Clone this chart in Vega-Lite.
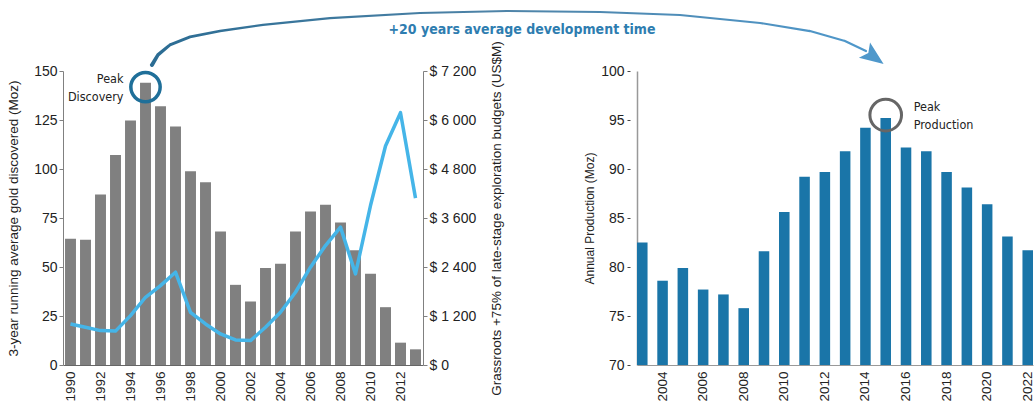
{
  "$schema": "https://vega.github.io/schema/vega-lite/v6.json",
  "background": "white",
  "padding": {"left": 6, "top": 10, "right": 0, "bottom": 0},
  "bounds": "flush",
  "spacing": 214,
  "config": {
    "font": "Liberation Sans",
    "view": {"stroke": null},
    "axis": {
      "labelFont": "Liberation Sans",
      "labelFontSize": 14,
      "labelColor": "#222222",
      "titleFont": "Liberation Sans",
      "titleFontSize": 12,
      "titleFontWeight": "normal",
      "titleColor": "#222222",
      "domainColor": "#808080",
      "tickColor": "#808080",
      "grid": false
    }
  },
  "datasets": {
    "discovery": [
      {"year": 1990, "moz": 64.4, "budget": 1005},
      {"year": 1991, "moz": 63.9, "budget": 924},
      {"year": 1992, "moz": 87.0, "budget": 842},
      {"year": 1993, "moz": 107.1, "budget": 830},
      {"year": 1994, "moz": 124.8, "budget": 1210},
      {"year": 1995, "moz": 144.0, "budget": 1659},
      {"year": 1996, "moz": 132.0, "budget": 1945},
      {"year": 1997, "moz": 121.7, "budget": 2272},
      {"year": 1998, "moz": 98.8, "budget": 1291},
      {"year": 1999, "moz": 93.3, "budget": 1005},
      {"year": 2000, "moz": 68.1, "budget": 760},
      {"year": 2001, "moz": 40.9, "budget": 613},
      {"year": 2002, "moz": 32.4, "budget": 597},
      {"year": 2003, "moz": 49.5, "budget": 924},
      {"year": 2004, "moz": 51.6, "budget": 1291},
      {"year": 2005, "moz": 68.1, "budget": 1782},
      {"year": 2006, "moz": 78.3, "budget": 2395},
      {"year": 2007, "moz": 81.7, "budget": 2926},
      {"year": 2008, "moz": 72.7, "budget": 3376},
      {"year": 2009, "moz": 58.6, "budget": 2231},
      {"year": 2010, "moz": 46.5, "budget": 3906},
      {"year": 2011, "moz": 29.5, "budget": 5362},
      {"year": 2012, "moz": 11.4, "budget": 6179},
      {"year": 2013, "moz": 8.0, "budget": 4087}
    ],
    "production": [
      {"year": 2003, "prod": 82.5},
      {"year": 2004, "prod": 78.6},
      {"year": 2005, "prod": 79.9},
      {"year": 2006, "prod": 77.7},
      {"year": 2007, "prod": 77.2},
      {"year": 2008, "prod": 75.8},
      {"year": 2009, "prod": 81.6},
      {"year": 2010, "prod": 85.6},
      {"year": 2011, "prod": 89.2},
      {"year": 2012, "prod": 89.7},
      {"year": 2013, "prod": 91.8},
      {"year": 2014, "prod": 94.2},
      {"year": 2015, "prod": 95.2},
      {"year": 2016, "prod": 92.2},
      {"year": 2017, "prod": 91.8},
      {"year": 2018, "prod": 89.7},
      {"year": 2019, "prod": 88.1},
      {"year": 2020, "prod": 86.4},
      {"year": 2021, "prod": 83.1},
      {"year": 2022, "prod": 81.7}
    ],
    "arrow": [
      {"t": 1995.43, "h": 153.1, "w": 12},
      {"t": 1995.83, "h": 158.2, "w": 10},
      {"t": 1996.63, "h": 163.3, "w": 8},
      {"t": 1997.97, "h": 167.4, "w": 7},
      {"t": 1999.97, "h": 170.4, "w": 6},
      {"t": 2002.83, "h": 173.5, "w": 5},
      {"t": 2007.3, "h": 177.0, "w": 4.5},
      {"t": 2013.3, "h": 179.6, "w": 4},
      {"t": 2019.1, "h": 180.6, "w": 4},
      {"t": 2025.3, "h": 180.1, "w": 4},
      {"t": 2030.63, "h": 178.6, "w": 4},
      {"t": 2035.97, "h": 174.5, "w": 4.5},
      {"t": 2039.3, "h": 170.4, "w": 5},
      {"t": 2041.63, "h": 165.3, "w": 5},
      {"t": 2043.03, "h": 160.2, "w": 5}
    ]
  },
  "hconcat": [
    {
      "width": 360,
      "height": 294,
      "layer": [
        {
          "layer": [
            {
              "layer": [
                {
                  "data": {"name": "discovery"},
                  "mark": {"type": "bar", "color": "#808080"},
                  "encoding": {
                    "x": {
                      "field": "year",
                      "type": "ordinal",
                      "scale": {"paddingInner": 0.27, "paddingOuter": 0.135},
                      "axis": {
                        "title": null,
                        "labelAngle": -90,
                        "labelFontSize": 13.5,
                        "ticks": false,
                        "labelPadding": 6,
                        "values": [1990, 1992, 1994, 1996, 1998, 2000, 2002, 2004, 2006, 2008, 2010, 2012],
                        "domainColor": "#666666"
                      }
                    },
                    "y": {
                      "field": "moz",
                      "type": "quantitative",
                      "scale": {"domain": [0, 150], "nice": false},
                      "axis": {
                        "title": "3-year running average gold discovered (Moz)",
                        "titleFontSize": 13.5,
                        "values": [0, 25, 50, 75, 100, 125, 150],
                        "tickSize": 4,
                        "titlePadding": 13
                      }
                    }
                  }
                },
                {
                  "data": {"values": [{"year": 1995, "moz": 141.8}]},
                  "mark": {"type": "point", "shape": "circle", "filled": false, "stroke": "#1f6f99", "strokeWidth": 3.5, "opacity": 1, "size": 860},
                  "encoding": {
                    "x": {"field": "year", "type": "ordinal"},
                    "y": {"field": "moz", "type": "quantitative"}
                  }
                },
                {
                  "data": {"values": [
                    {"year": 1994, "moz": 145.9, "label": "Peak"},
                    {"year": 1994, "moz": 136.7, "label": "Discovery"}
                  ]},
                  "mark": {"type": "text", "align": "right", "baseline": "middle", "dx": -7, "fontSize": 12.5, "color": "#222222", "font": "DejaVu Sans Condensed, Liberation Sans, sans-serif"},
                  "encoding": {
                    "x": {"field": "year", "type": "ordinal"},
                    "y": {"field": "moz", "type": "quantitative"},
                    "text": {"field": "label"}
                  }
                }
              ]
            },
            {
              "data": {"name": "discovery"},
              "mark": {"type": "line", "color": "#45b5e8", "strokeWidth": 3.5, "strokeJoin": "round"},
              "encoding": {
                "x": {"field": "year", "type": "ordinal"},
                "y": {
                  "field": "budget",
                  "type": "quantitative",
                  "scale": {"domain": [0, 7200], "nice": false},
                  "axis": {
                    "orient": "right",
                    "title": "Grassroots +75% of late-stage exploration budgets (US$M)",
                    "titleFontSize": 13.5,
                    "titleAngle": 270,
                    "titleBaseline": "top",
                    "values": [0, 1200, 2400, 3600, 4800, 6000, 7200],
                    "labelExpr": "'$ ' + replace(format(datum.value, ','), ',', ' ')",
                    "tickSize": 4,
                    "titlePadding": 14
                  }
                }
              }
            }
          ],
          "resolve": {"scale": {"y": "independent"}}
        },
        {
          "layer": [
            {
              "data": {"name": "arrow"},
              "mark": {"type": "trail", "clip": false, "color": {"gradient": "linear", "x1": 0, "x2": 1, "y1": 0, "y2": 0, "stops": [{"offset": 0, "color": "#2b6c93"}, {"offset": 0.5, "color": "#4f84a8"}, {"offset": 1, "color": "#4f98cb"}]}},
              "encoding": {
                "x": {"field": "t", "type": "quantitative", "scale": {"domain": [1989.5, 2013.5], "nice": false, "zero": false}, "axis": null},
                "y": {"field": "h", "type": "quantitative", "scale": {"domain": [0, 150], "nice": false, "zero": false}, "axis": null},
                "size": {"field": "w", "type": "quantitative", "scale": {"type": "identity"}, "legend": null},
                "order": {"field": "t"}
              }
            },
            {
              "data": {"values": [{"t": 2043.57, "h": 157.1}]},
              "mark": {"type": "point", "shape": "M -1 -0.8 L 1 0 L -1 0.8 L -0.6 0 Z", "filled": true, "color": "#4f98cb", "opacity": 1, "size": 560, "angle": 36},
              "encoding": {
                "x": {"field": "t", "type": "quantitative"},
                "y": {"field": "h", "type": "quantitative"}
              }
            },
            {
              "data": {"values": [{"t": 2020.1, "h": 170.9, "label": "+20 years average development time"}]},
              "mark": {"type": "text", "align": "center", "baseline": "middle", "fontSize": 14, "fontWeight": "bold", "color": "#2e7db0", "font": "DejaVu Sans Condensed, Liberation Sans, sans-serif"},
              "encoding": {
                "x": {"field": "t", "type": "quantitative"},
                "y": {"field": "h", "type": "quantitative"},
                "text": {"field": "label"}
              }
            }
          ]
        }
      ],
      "resolve": {"scale": {"x": "independent", "y": "independent"}}
    },
    {
      "width": 396,
      "height": 294,
      "layer": [
        {
          "data": {"name": "production"},
          "mark": {"type": "bar", "color": "#1a75a8"},
          "encoding": {
            "x": {
              "field": "year",
              "type": "ordinal",
              "scale": {"paddingInner": 0.48, "paddingOuter": 0},
              "axis": {
                "title": null,
                "labelAngle": -90,
                "labelFontSize": 13.5,
                "ticks": false,
                "labelPadding": 6,
                "values": [2004, 2006, 2008, 2010, 2012, 2014, 2016, 2018, 2020, 2022],
                "domainColor": "#999999"
              }
            },
            "y": {
              "field": "prod",
              "type": "quantitative",
              "scale": {"domain": [70, 100], "nice": false, "zero": false},
              "axis": {
                "title": "Annual Production (Moz)",
                "values": [70, 75, 80, 85, 90, 95, 100],
                "tickSize": 10,
                "tickDash": [0, 7, 3, 50],
                "tickColor": "#444444",
                "labelPadding": 3,
                "titlePadding": 4,
                "domainColor": "#999999",
                "domainWidth": 1.5
              }
            },
            "y2": {"datum": 70}
          }
        },
        {
          "data": {"values": [{"year": 2015, "prod": 95.5}]},
          "mark": {"type": "point", "shape": "circle", "filled": false, "stroke": "#666666", "strokeWidth": 3, "opacity": 1, "size": 1000},
          "encoding": {
            "x": {"field": "year", "type": "ordinal"},
            "y": {"field": "prod", "type": "quantitative"}
          }
        },
        {
          "data": {"values": [
            {"year": 2015, "prod": 96.3, "label": "Peak"},
            {"year": 2015, "prod": 94.5, "label": "Production"}
          ]},
          "mark": {"type": "text", "align": "left", "baseline": "middle", "dx": 28, "fontSize": 12.5, "color": "#222222", "font": "DejaVu Sans Condensed, Liberation Sans, sans-serif"},
          "encoding": {
            "x": {"field": "year", "type": "ordinal"},
            "y": {"field": "prod", "type": "quantitative"},
            "text": {"field": "label"}
          }
        }
      ]
    }
  ]
}
